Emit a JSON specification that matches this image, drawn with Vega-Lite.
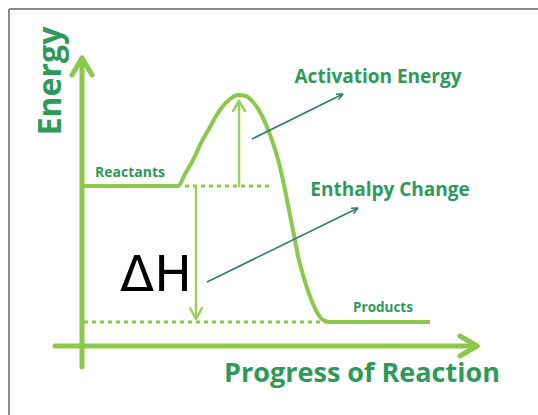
{
  "$schema": "https://vega.github.io/schema/vega-lite/v6.json",
  "width": 538,
  "height": 415,
  "padding": 0,
  "autosize": {"type": "none"},
  "background": "white",
  "config": {"view": {"stroke": null}},
  "datasets": {
    "border": [
      {"x": 9, "y": 9, "x2": 538, "y2": 9},
      {"x": 9, "y": 9, "x2": 9, "y2": 415}
    ],
    "axes": [
      {"x": 82, "y": 367, "x2": 82, "y2": 59},
      {"x": 82, "y": 58, "x2": 72, "y2": 75},
      {"x": 82, "y": 58, "x2": 92, "y2": 75},
      {"x": 55, "y": 346, "x2": 476, "y2": 346},
      {"x": 477, "y": 346, "x2": 460, "y2": 336},
      {"x": 477, "y": 346, "x2": 460, "y2": 356}
    ],
    "inner": [
      {"x": 239, "y": 186, "x2": 239, "y2": 102},
      {"x": 239, "y": 101, "x2": 233, "y2": 111},
      {"x": 239, "y": 101, "x2": 245, "y2": 111},
      {"x": 196, "y": 188, "x2": 196, "y2": 318},
      {"x": 196, "y": 319, "x2": 190, "y2": 308},
      {"x": 196, "y": 319, "x2": 202, "y2": 308}
    ],
    "pointers": [
      {"x": 252, "y": 139, "x2": 343, "y2": 94},
      {"x": 343, "y": 94, "x2": 336, "y2": 94.2},
      {"x": 343, "y": 94, "x2": 338.6, "y2": 99.5},
      {"x": 207, "y": 282, "x2": 358, "y2": 208},
      {"x": 358, "y": 208, "x2": 351, "y2": 208.2},
      {"x": 358, "y": 208, "x2": 353.6, "y2": 213.5}
    ],
    "dotted": [
      {"x": 185, "y": 186, "x2": 273, "y2": 186},
      {"x": 84, "y": 322, "x2": 328, "y2": 322}
    ],
    "curve": [
      {"i": 0, "x": 82, "y": 186},
      {"i": 1, "x": 178, "y": 186},
      {"i": 2, "x": 185, "y": 174},
      {"i": 3, "x": 193, "y": 160},
      {"i": 4, "x": 201, "y": 143},
      {"i": 5, "x": 210, "y": 127},
      {"i": 6, "x": 216, "y": 116},
      {"i": 7, "x": 223, "y": 106},
      {"i": 8, "x": 230, "y": 99},
      {"i": 9, "x": 238, "y": 95},
      {"i": 10, "x": 246, "y": 96},
      {"i": 11, "x": 253, "y": 102},
      {"i": 12, "x": 260, "y": 112},
      {"i": 13, "x": 267, "y": 127},
      {"i": 14, "x": 273, "y": 143},
      {"i": 15, "x": 279, "y": 163},
      {"i": 16, "x": 284, "y": 185},
      {"i": 17, "x": 289, "y": 210},
      {"i": 18, "x": 294, "y": 235},
      {"i": 19, "x": 298, "y": 256},
      {"i": 20, "x": 303, "y": 275},
      {"i": 21, "x": 308, "y": 291},
      {"i": 22, "x": 313, "y": 304},
      {"i": 23, "x": 318, "y": 314},
      {"i": 24, "x": 323, "y": 320},
      {"i": 25, "x": 330, "y": 322},
      {"i": 26, "x": 430, "y": 322}
    ],
    "labels": [
      {"x": 378, "y": 77, "label": "Activation Energy", "size": 19},
      {"x": 390, "y": 190, "label": "Enthalpy Change", "size": 19},
      {"x": 130, "y": 173, "label": "Reactants", "size": 14},
      {"x": 383, "y": 308, "label": "Products", "size": 13.5},
      {"x": 362, "y": 374, "label": "Progress of Reaction", "size": 27}
    ],
    "ylabel": [{"x": 51, "y": 81, "label": "Energy"}],
    "dh": [{"x": 156, "y": 276, "label": "ΔH"}]
  },
  "encoding": {
    "x": {"field": "x", "type": "quantitative", "scale": {"domain": [0, 538], "nice": false, "zero": false}, "axis": null},
    "y": {"field": "y", "type": "quantitative", "scale": {"domain": [0, 415], "nice": false, "zero": false, "reverse": true}, "axis": null}
  },
  "layer": [
    {
      "data": {"name": "border"},
      "mark": {"type": "rule", "stroke": "#8a8a8a", "strokeWidth": 2},
      "encoding": {"x2": {"field": "x2"}, "y2": {"field": "y2"}}
    },
    {
      "data": {"name": "dotted"},
      "mark": {"type": "rule", "stroke": "#8cc84b", "strokeWidth": 3, "strokeDash": [4, 4]},
      "encoding": {"x2": {"field": "x2"}, "y2": {"field": "y2"}}
    },
    {
      "data": {"name": "inner"},
      "mark": {"type": "rule", "stroke": "#9ccf5f", "strokeWidth": 2.5, "strokeCap": "round"},
      "encoding": {"x2": {"field": "x2"}, "y2": {"field": "y2"}}
    },
    {
      "data": {"name": "curve"},
      "mark": {"type": "line", "stroke": "#8cc84b", "strokeWidth": 4, "interpolate": "monotone"},
      "encoding": {"order": {"field": "i", "type": "quantitative"}}
    },
    {
      "data": {"name": "axes"},
      "mark": {"type": "rule", "stroke": "#8cc84b", "strokeWidth": 5, "strokeCap": "round"},
      "encoding": {"x2": {"field": "x2"}, "y2": {"field": "y2"}}
    },
    {
      "data": {"name": "pointers"},
      "mark": {"type": "rule", "stroke": "#2f7f6f", "strokeWidth": 1.6},
      "encoding": {"x2": {"field": "x2"}, "y2": {"field": "y2"}}
    },
    {
      "data": {"name": "labels"},
      "mark": {"type": "text", "font": "Open Sans", "fontWeight": "bold", "color": "#2e9a5a", "align": "center", "baseline": "middle"},
      "encoding": {
        "text": {"field": "label"},
        "size": {"field": "size", "type": "quantitative", "scale": null}
      }
    },
    {
      "data": {"name": "ylabel"},
      "mark": {"type": "text", "font": "Open Sans", "fontWeight": "bold", "color": "#2e9a5a", "align": "center", "baseline": "middle", "angle": 270, "fontSize": 32},
      "encoding": {"text": {"field": "label"}}
    },
    {
      "data": {"name": "dh"},
      "mark": {"type": "text", "font": "DejaVu Sans", "color": "#000000", "align": "center", "baseline": "middle", "fontSize": 50},
      "encoding": {"text": {"field": "label"}}
    }
  ]
}
